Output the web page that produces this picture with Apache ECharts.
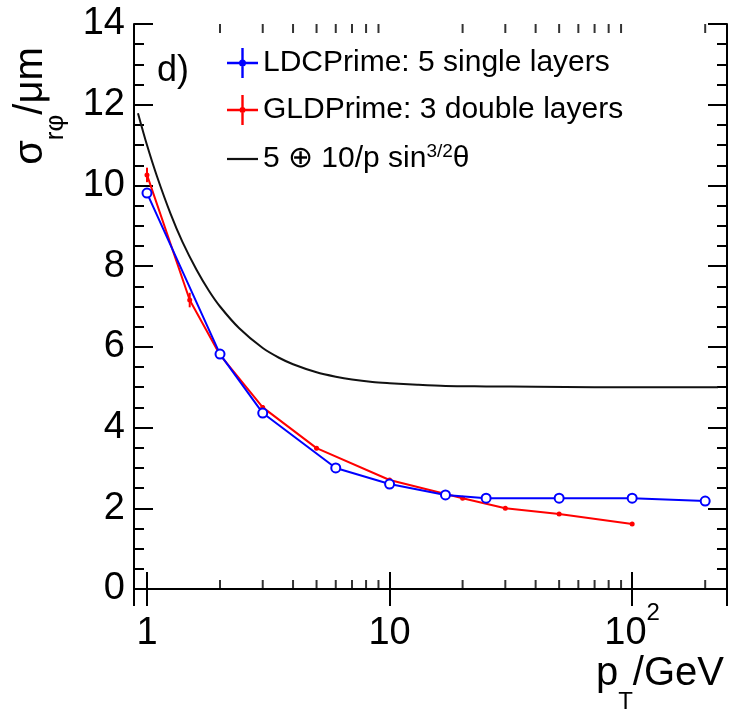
<!DOCTYPE html>
<html><head><meta charset="utf-8">
<script src="https://cdn.jsdelivr.net/npm/echarts@6/dist/echarts.min.js"></script>
<style>html,body{margin:0;padding:0;background:#fff}#c{width:733px;height:716px}</style>
</head><body><div id="c"></div>
<script>
// LDCPrime: 5 single layers
const blueX = [1, 2, 3, 6, 10, 17, 25, 50, 100, 200];
const blueY = [9.81, 5.82, 4.36, 3.0, 2.6, 2.33, 2.25, 2.25, 2.25, 2.18];
const blueErr = [0.08, 0.06, 0.06, 0.04, 0.04, 0.04, 0.04, 0.04, 0.04, 0.04];
// GLDPrime: 3 double layers
const redX = [1, 1.5, 2, 3, 5, 10, 20, 30, 50, 100];
const redY = [10.26, 7.16, 5.8, 4.5, 3.49, 2.7, 2.25, 2.0, 1.86, 1.61];
const redErr = [0.18, 0.18, 0.08, 0.06, 0.05, 0.04, 0.03, 0.03, 0.03, 0.03];
// 5 (+) 10/p sin^{3/2} theta curve
const curveX = [0.918, 1, 1.1, 1.25, 1.4, 1.6, 1.8, 2, 2.4, 3, 3.5, 4, 5, 6, 7, 8.5, 10, 13, 17, 25, 40, 70, 226];
const curveY = [11.79, 11.0, 10.22, 9.3, 8.6, 7.91, 7.39, 7.0, 6.46, 5.97, 5.73, 5.57, 5.37, 5.26, 5.19, 5.13, 5.1, 5.06, 5.03, 5.02, 5.01, 5.0, 5.0];
// axes
const xMin = 0.884, xMax = 246;
const yMin = 0, yMax = 14, yStep = 2;
const minorXTicks = [2,3,4,5,6,7,8,9,20,30,40,50,60,70,80,90,200];
const seriesNames = ['LDCPrime: 5 single layers', 'GLDPrime: 3 double layers', '5 \u2295 10/p sin{sup|3/2}\u03b8'];

const FONT = '"Liberation Sans", Arial, Helvetica, sans-serif';
const pairs = (xs, ys) => xs.map((x, i) => [x, ys[i]]);
const errData = (xs, ys, es) => xs.map((x, i) => [x, ys[i] - es[i], ys[i] + es[i]]);

function errRender(color) {
  return function (params, api) {
    const lo = api.coord([api.value(0), api.value(1)]);
    const hi = api.coord([api.value(0), api.value(2)]);
    return {
      type: 'line',
      shape: { x1: lo[0], y1: lo[1], x2: hi[0], y2: hi[1] },
      style: { stroke: color, lineWidth: 2 }
    };
  };
}

const chart = echarts.init(document.getElementById('c'), null, { renderer: 'canvas' });
const labelFmt = v => {
  const r = Math.round(Math.log10(v) * 1000) / 1000;
  if (r === 0) return '{n|1}';
  if (r === 1) return '{n|10}';
  if (r === 2) return '{n|10}{sup|2}';
  return '';
};
const axisCommon = {
  type: 'log', logBase: 10, min: xMin, max: xMax,
  axisLine: { show: true, lineStyle: { color: '#000', width: 2 } },
  splitLine: { show: false },
  axisTick: { show: true, inside: true, length: 17, lineStyle: { color: '#000', width: 2 } }
};
const crossPath = 'M0,13.8L31,13.8L31,16.2L0,16.2Z M14.3,0L16.7,0L16.7,30L14.3,30Z ';
chart.setOption({
  animation: false,
  backgroundColor: '#fff',
  grid: { left: 134, right: 6, top: 24, bottom: 127, containLabel: false },
  xAxis: [
    Object.assign({}, axisCommon, {
      position: 'bottom',
      axisLabel: {
        show: true, margin: 12, color: '#000', fontFamily: FONT, showMinLabel: false, showMaxLabel: false,
        formatter: labelFmt,
        rich: {
          n: { fontSize: 38, fontFamily: FONT, color: '#000', lineHeight: 52, verticalAlign: 'bottom' },
          sup: { fontSize: 24, fontFamily: FONT, color: '#000', lineHeight: 52, verticalAlign: 'top' }
        }
      }
    }),
    Object.assign({}, axisCommon, { position: 'top', axisLabel: { show: false } })
  ],
  yAxis: [0, 1].map(i => ({
    type: 'value', min: yMin, max: yMax, interval: yStep,
    position: i === 0 ? 'left' : 'right',
    axisLine: { show: true, lineStyle: { color: '#000', width: 2 } },
    splitLine: { show: false },
    axisTick: { show: true, inside: true, length: 19, lineStyle: { color: '#000', width: 2 } },
    minorTick: { show: true, splitNumber: 4, length: 10, lineStyle: { color: '#000', width: 2 } },
    axisLabel: { show: i === 0, margin: 9, fontSize: 38, color: '#000', fontFamily: FONT }
  })),
  legend: {
    orient: 'vertical', left: 222, top: 43,
    itemWidth: 31, itemHeight: 30, itemGap: 17,
    data: [
      { name: seriesNames[0], icon: 'path://' + crossPath + 'M12,15a3.5,3.5 0 1,1 7,0a3.5,3.5 0 1,1 -7,0Z',
        itemStyle: { color: '#0000ff', borderWidth: 0 } },
      { name: seriesNames[1], icon: 'path://' + crossPath + 'M12.5,15a3,3 0 1,1 6,0a3,3 0 1,1 -6,0Z',
        itemStyle: { color: '#ff0000', borderWidth: 0 } },
      { name: seriesNames[2], icon: 'path://M0,14L28,14L28,16L0,16Z', itemStyle: { color: '#111', borderWidth: 0 } }
    ],
    textStyle: {
      fontSize: 30, fontFamily: FONT, color: '#000',
      rich: { sup: { fontSize: 19, fontFamily: FONT, color: '#000', verticalAlign: 'top', lineHeight: 34 } }
    }
  },
  graphic: [
    { type: 'text', left: 157, top: 53, style: { text: 'd)', fontSize: 36, fontFamily: FONT, fill: '#000' } },
    {
      type: 'text', x: 40, y: 106, rotation: Math.PI / 2,
      style: {
        text: '{n|\u03c3}{s|r\u03c6}{n|/\u03bcm}', align: 'center', verticalAlign: 'middle',
        rich: {
          n: { fontSize: 40, fontFamily: FONT, fill: '#000', lineHeight: 46, verticalAlign: 'top' },
          s: { fontSize: 26, fontFamily: FONT, fill: '#000', lineHeight: 58, verticalAlign: 'bottom' }
        }
      }
    },
    {
      type: 'text', x: 724, y: 684,
      style: {
        text: '{n|p}{s|T}{n|/GeV}', align: 'right', verticalAlign: 'middle',
        rich: {
          n: { fontSize: 40, fontFamily: FONT, fill: '#000', lineHeight: 46, verticalAlign: 'top' },
          s: { fontSize: 24, fontFamily: FONT, fill: '#000', lineHeight: 60, verticalAlign: 'bottom' }
        }
      }
    }
  ],
  series: [
    {
      name: seriesNames[0], type: 'line', data: pairs(blueX, blueY), xAxisIndex: 0, yAxisIndex: 0,
      color: '#0000ff', symbol: 'emptyCircle', symbolSize: 9,
      lineStyle: { color: '#0000ff', width: 2 },
      itemStyle: { color: '#0000ff', borderColor: '#0000ff', borderWidth: 2 }, z: 4
    },
    {
      name: seriesNames[1], type: 'line', data: pairs(redX, redY),
      color: '#ff0000', symbol: 'circle', symbolSize: 5,
      lineStyle: { color: '#ff0000', width: 2 },
      itemStyle: { color: '#ff0000' }, z: 3
    },
    {
      name: seriesNames[2], type: 'line', data: pairs(curveX, curveY), smooth: 0.3,
      color: '#111', symbol: 'none', lineStyle: { color: '#111', width: 2 }, z: 2
    },
    { type: 'custom', data: errData(blueX, blueY, blueErr), renderItem: errRender('#0000ff'), z: 4, silent: true },
    { type: 'custom', data: errData(redX, redY, redErr), renderItem: errRender('#ff0000'), z: 3, silent: true },
    {
      type: 'scatter', data: minorXTicks.map(v => [v, yMin]), symbol: 'rect', symbolSize: [2, 9],
      symbolOffset: [0, -4.5], itemStyle: { color: '#000' }, clip: false, silent: true, z: 5
    },
    {
      type: 'scatter', data: minorXTicks.map(v => [v, yMax]), symbol: 'rect', symbolSize: [2, 9],
      symbolOffset: [0, 4.5], itemStyle: { color: '#000' }, clip: false, silent: true, z: 5
    }
  ]
});
</script>
</body></html>
